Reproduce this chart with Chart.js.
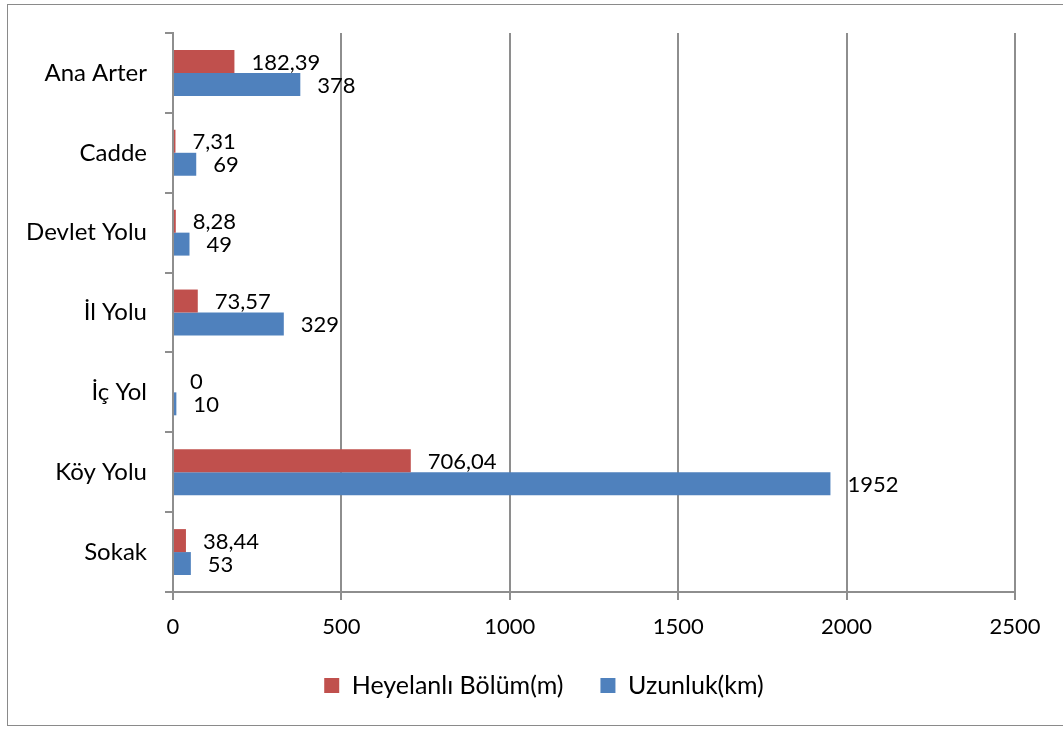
<!DOCTYPE html>
<html lang="tr">
<head>
<meta charset="utf-8">
<title>Yol türlerine göre heyelanlı bölüm ve uzunluk</title>
<script src="https://cdn.jsdelivr.net/npm/chart.js@4.4.1/dist/chart.umd.min.js"></script>
<style>
  html, body { margin: 0; padding: 0; background: #fff; overflow: hidden; }
  #wrap { position: absolute; left: 0; top: 0; width: 1063px; height: 727px; }
  #frame {
    position: absolute; left: 7px; top: 4px; width: 1100px; height: 722px;
    border: 1px solid #8a8a8a; box-sizing: border-box; pointer-events: none;
  }
</style>
</head>
<body>
<div id="wrap"><canvas id="roadChart"></canvas></div>
<div id="frame"></div>
<script>
const categories = ["Ana Arter", "Cadde", "Devlet Yolu", "İl Yolu", "İç Yol", "Köy Yolu", "Sokak"];
const heyelanli = [182.39, 7.31, 8.28, 73.57, 0, 706.04, 38.44];
const uzunluk = [378, 69, 49, 329, 10, 1952, 53];
const xTicks = [0, 500, 1000, 1500, 2000, 2500];

const gridColor = "#8e8e8e";
const fontFamily = "Lato, 'Open Sans', sans-serif";

// value labels to the right of each bar, comma decimals
const barLabels = {
  id: "barLabels",
  afterDatasetsDraw(chart) {
    const ctx = chart.ctx;
    ctx.save();
    ctx.font = "22px " + fontFamily;
    ctx.fillStyle = "#000";
    ctx.textAlign = "left";
    ctx.textBaseline = "middle";
    chart.data.datasets.forEach((ds, i) => {
      chart.getDatasetMeta(i).data.forEach((bar, j) => {
        const txt = String(ds.data[j]).replace(".", ",");
        ctx.fillText(txt, bar.x + 17, bar.y + 1);
      });
    });
    ctx.restore();
  },
};

// legend sits a bit right of the canvas centre, like the original
const shiftLegend = {
  id: "shiftLegend",
  afterLayout(chart) {
    if (chart.legend) chart.legend.left = 73;
  },
};

new Chart(document.getElementById("roadChart"), {
  type: "bar",
  data: {
    labels: categories,
    datasets: [
      {
        label: "Heyelanlı Bölüm(m)",
        data: heyelanli,
        backgroundColor: "#C0504D",
        barPercentage: 1,
        categoryPercentage: 0.575,
      },
      {
        label: "Uzunluk(km)",
        data: uzunluk,
        backgroundColor: "#4F81BD",
        barPercentage: 1,
        categoryPercentage: 0.575,
      },
    ],
  },
  options: {
    indexAxis: "y",
    responsive: true,
    maintainAspectRatio: false,
    animation: false,
    layout: { padding: { left: 0, right: 48, top: 33, bottom: 19 } },
    plugins: {
      tooltip: { enabled: false },
      legend: {
        position: "bottom",
        labels: {
          boxWidth: 15,
          boxHeight: 15,
          padding: 37,
          color: "#000",
          font: { family: fontFamily, size: 25 },
        },
      },
    },
    scales: {
      x: {
        min: 0,
        max: 2500,
        afterBuildTicks: (scale) => {
          scale.ticks = xTicks.map((v) => ({ value: v }));
        },
        afterFit: (scale) => {
          scale.height = 44;
        },
        grid: { color: gridColor, lineWidth: 2, tickLength: 8 },
        border: { color: gridColor, width: 2 },
        ticks: {
          color: "#000",
          padding: 14,
          font: { family: fontFamily, size: 22 },
          callback: (v) => String(v),
        },
      },
      y: {
        afterFit: (scale) => {
          scale.width = 173;
        },
        grid: { drawOnChartArea: false, color: gridColor, lineWidth: 2, tickLength: 8 },
        border: { color: gridColor, width: 2 },
        ticks: { color: "#000", padding: 18, font: { family: fontFamily, size: 24 } },
      },
    },
  },
  plugins: [barLabels, shiftLegend],
});
</script>
</body>
</html>
